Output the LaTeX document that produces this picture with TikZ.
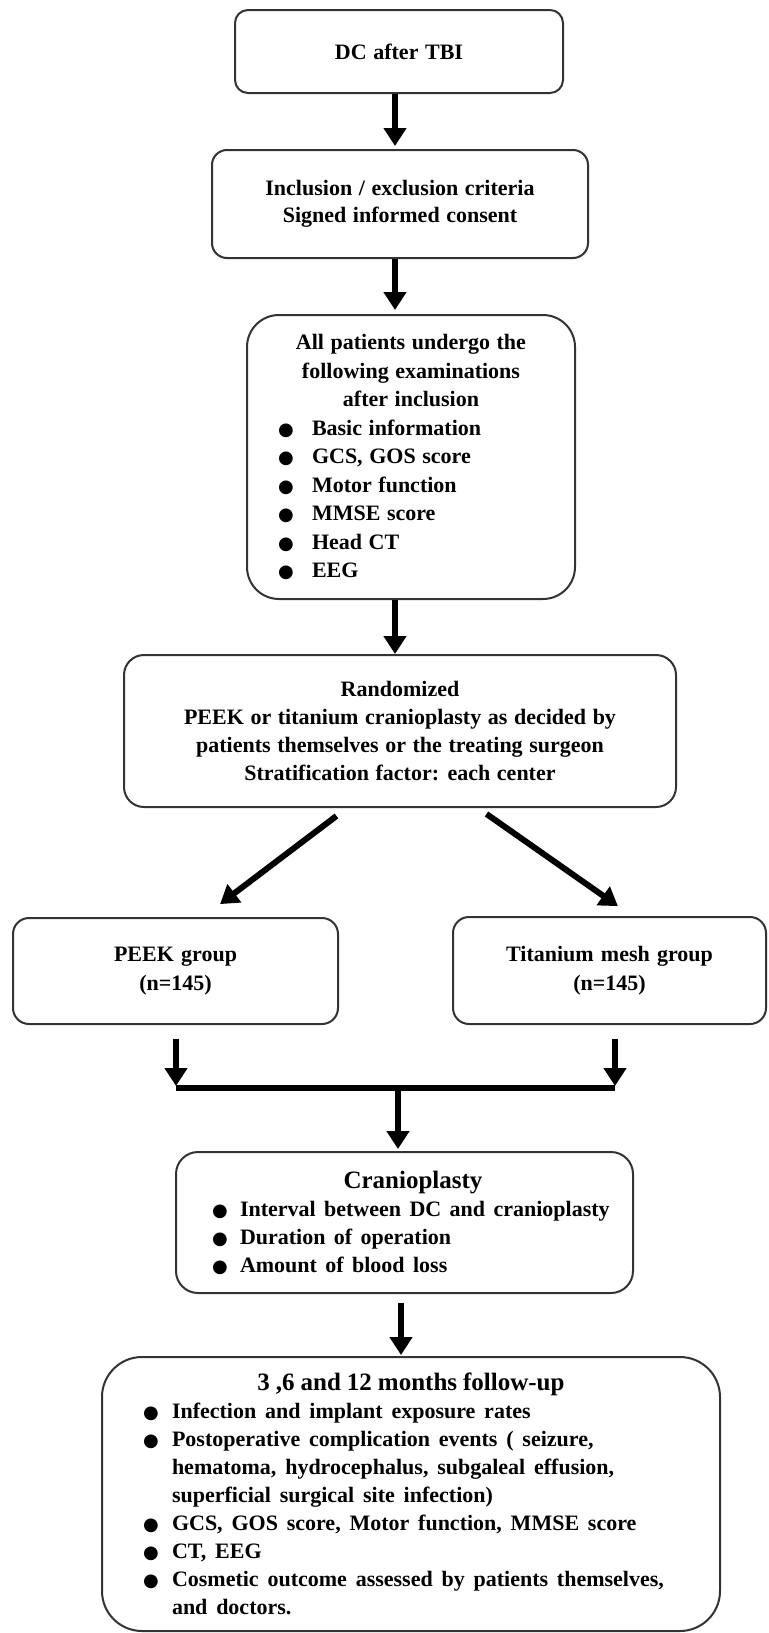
\documentclass[tikz,border=0pt]{standalone}
\usepackage{fontspec}
\setmainfont{Liberation Serif}
\newfontfamily\dejavu{DejaVu Sans}
\usetikzlibrary{arrows.meta}
\newcommand{\bull}{{\dejavu\fontsize{9}{9}\selectfont ●}}
\newcommand{\bitem}[3]{\hspace*{#1}\makebox[#2][l]{\bull}#3}
\newcommand{\wsp}[1]{\spaceskip=#1 plus 1pt minus 0.5pt\relax}
\begin{document}
\begin{tikzpicture}[x=0.5pt,y=-0.5pt,
  box/.style={draw=black!80, line width=1pt, rounded corners=#1, inner sep=0pt,
    font=\bfseries\fontsize{11}{14}\selectfont\wsp{3.3pt}},
  box/.default=8pt,
  arr/.style={line width=3pt, -{Triangle[width=11pt,length=9pt]}},
  bar/.style={line width=3pt}
]
\fill[white] (0,0) rectangle (768,1633);
\useasboundingbox (0,0) rectangle (768,1633);

\node[box=6.5pt, minimum width=164pt, minimum height=41.5pt] (dc) at (399,51.5) {DC after TBI};

\node[box=7.5pt, minimum width=188pt, minimum height=54pt, align=center,
  font=\bfseries\fontsize{11}{13.5}\selectfont\wsp{3.3pt}] (incl) at (400,204)
  {Inclusion / exclusion criteria\\Signed informed consent};

\node[box=16pt, minimum width=164pt, minimum height=142pt] (exam) at (411,457)
 {\begin{minipage}{164pt}\fontsize{11}{14.25}\selectfont\centering
  All patients undergo the\\following examinations\\after inclusion\par
  \raggedright
  \bitem{15.5pt}{17pt}{Basic information}\\
  \bitem{15.5pt}{17pt}{GCS, GOS score}\\
  \bitem{15.5pt}{17pt}{Motor function}\\
  \bitem{15.5pt}{17pt}{MMSE score}\\
  \bitem{15.5pt}{17pt}{Head CT}\\
  \bitem{15.5pt}{17pt}{EEG}
  \end{minipage}};

\node[box=10pt, minimum width=276pt, minimum height=76pt, align=center] (rand) at (400,731)
 {Randomized\\PEEK or titanium cranioplasty as decided by\\patients themselves or the treating surgeon\\Stratification factor: each center};

\node[box=8pt, minimum width=162.5pt, minimum height=53pt, align=center,
  font=\bfseries\fontsize{11}{14.5}\selectfont\wsp{3.6pt}] (peek) at (175.5,971)
  {PEEK group\\(n=145)};
\node[box=8pt, minimum width=156.5pt, minimum height=53.5pt, align=center,
  font=\bfseries\fontsize{11}{14.5}\selectfont\wsp{3.6pt}] (tita) at (609.5,970.5)
  {Titanium mesh group\\(n=145)};

\node[box=11pt, minimum width=228.5pt, minimum height=70.5pt] (cran) at (404.5,1222.5)
 {\begin{minipage}{228.5pt}
  {\fontsize{12.5}{14}\selectfont\centering\hspace*{8.5pt}Cranioplasty\par}
  \fontsize{11}{14}\selectfont\raggedright\wsp{4.2pt}
  \bitem{18pt}{14pt}{Interval between DC and cranioplasty}\\
  \bitem{18pt}{14pt}{Duration of operation}\\
  \bitem{18pt}{14pt}{Amount of blood loss}
  \end{minipage}};

\node[box=20pt, minimum width=309pt, minimum height=137pt] (follow) at (411,1494)
 {\begin{minipage}{309pt}
  {\fontsize{12.5}{14}\selectfont\wsp{3pt}\centering 3 ,6 and 12 months follow-up\par}
  \fontsize{11}{14}\selectfont\raggedright\wsp{4.4pt}
  \bitem{20.5pt}{14.5pt}{Infection and implant exposure rates}\\
  \bitem{20.5pt}{14.5pt}{Postoperative complication events ( seizure,}\\
  \hspace*{35pt}hematoma, hydrocephalus, subgaleal effusion,\\
  \hspace*{35pt}superficial surgical site infection)\\
  \bitem{20.5pt}{14.5pt}{GCS, GOS score, Motor function, MMSE score}\\
  \bitem{20.5pt}{14.5pt}{CT, EEG}\\
  \bitem{20.5pt}{14.5pt}{Cosmetic outcome assessed by patients themselves,}\\
  \hspace*{35pt}and doctors.
  \end{minipage}};

\coordinate (jl) at (176,1088);
\coordinate (jr) at (615,1088);
\coordinate (jm) at (398,1088);

\draw[arr, shorten >=1.5pt] (dc.south -| 395,0) -- (incl.north -| 395,0);
\draw[arr, shorten >=2pt] (incl.south -| 395,0) -- (exam.north -| 395,0);
\draw[arr] (exam.south -| 395,0) -- (rand.north -| 395,0);
\draw[arr, shorten <=6.6pt, shorten >=10.7pt] (rand.south -| 347,0) -- (peek.north -| 203,0);
\draw[arr, shorten <=5.2pt, shorten >=8.6pt] (rand.south -| 478,0) -- (tita.north -| 632,0);
\draw[arr, shorten <=7pt, shorten >=1pt] (peek.south -| jl) -- (jl);
\draw[arr, shorten <=7pt, shorten >=1pt] (tita.south -| jr) -- (jr);
\draw[bar] (jl) -- (jr);
\draw[arr, shorten >=1pt] (jm) -- (cran.north -| jm);
\draw[arr, shorten <=4.5pt, shorten >=0.5pt] (cran.south -| 401,0) -- (follow.north -| 401,0);
\end{tikzpicture}
\end{document}
